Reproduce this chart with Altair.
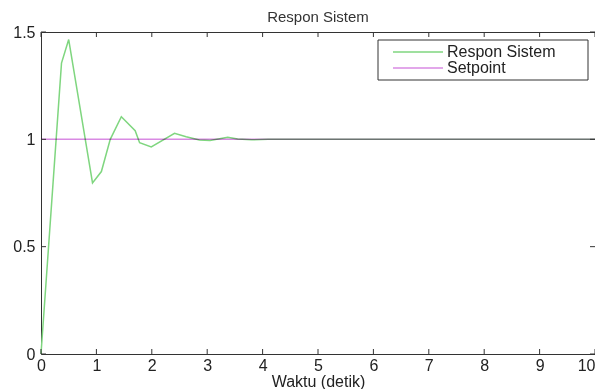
import altair as alt
import pandas as pd

# Response of the system
t_resp = [0, 0.37, 0.5, 0.93, 1.09, 1.25, 1.45, 1.7, 1.78, 1.99, 2.41, 2.62, 2.86,
          3.05, 3.37, 3.55, 3.8, 4.1, 10]
y_resp = [0, 1.355, 1.465, 0.797, 0.85, 1.0, 1.105, 1.04, 0.984, 0.965, 1.028, 1.012,
          0.997, 0.995, 1.01, 1.002, 0.998, 1.0, 1.0]
# Setpoint
t_set = [0, 10]
y_set = [1, 1]

x_ticks = list(range(11))
y_ticks = [0, 0.5, 1, 1.5]
series_names = ["Respon Sistem", "Setpoint"]
series_colors = ["#7fd67f", "#d98ae3"]

FONT = "Liberation Sans"
W, H = 554, 322

resp = pd.DataFrame({"t": t_resp, "y": y_resp, "s": series_names[0]})
setp = pd.DataFrame({"t": t_set, "y": y_set, "s": series_names[1]})

xs = alt.Scale(domain=[0, 10], nice=False)
ys = alt.Scale(domain=[0, 1.5], nice=False)

color = alt.Color(
    "s:N",
    scale=alt.Scale(domain=series_names, range=series_colors),
    legend=alt.Legend(
        title=None, orient="none", legendX=337, legendY=8,
        symbolType="M-1,0H9", symbolSize=100, symbolStrokeWidth=1.5,
        labelFontSize=16, labelFont=FONT, labelColor="#222",
        padding=4, symbolOffset=8, labelOffset=41, rowPadding=0,
    ),
)

x_axis = alt.Axis(values=x_ticks, ticks=False, domain=False, grid=False,
                  labelFontSize=16, labelFont=FONT, labelColor="#222", labelPadding=3,
                  labelAlign={"condition": {"test": "datum.value >= 10", "value": "right"},
                              "value": "center"},
                  title="Waktu (detik)", titleFontSize=16, titleFont=FONT,
                  titleFontWeight="normal", titleColor="#222", titlePadding=0)
y_axis = alt.Axis(values=y_ticks, ticks=False, domain=False, grid=False, format=".1~f",
                  labelFontSize=16, labelFont=FONT, labelColor="#222", labelPadding=6,
                  title=None)

line_resp = alt.Chart(resp).mark_line(strokeWidth=1.5).encode(
    x=alt.X("t:Q", scale=xs, axis=x_axis),
    y=alt.Y("y:Q", scale=ys, axis=y_axis),
    color=color,
)
line_set = alt.Chart(setp).mark_line(strokeWidth=1.5, blend="multiply").encode(
    x=alt.X("t:Q", scale=xs),
    y=alt.Y("y:Q", scale=ys),
    color=color,
)

xt = pd.DataFrame({"t": x_ticks})
yt = pd.DataFrame({"y": y_ticks})
tick_b = alt.Chart(xt).mark_rule(color="#333").encode(
    x=alt.X("t:Q", scale=xs), y=alt.value(H), y2=alt.value(H - 5))
tick_t = alt.Chart(xt).mark_rule(color="#333").encode(
    x=alt.X("t:Q", scale=xs), y=alt.value(0), y2=alt.value(5))
tick_l = alt.Chart(yt).mark_rule(color="#333").encode(
    y=alt.Y("y:Q", scale=ys), x=alt.value(0), x2=alt.value(5))
tick_r = alt.Chart(yt).mark_rule(color="#333").encode(
    y=alt.Y("y:Q", scale=ys), x=alt.value(W), x2=alt.value(W - 5))

box = alt.Chart(pd.DataFrame({"a": [0]})).mark_rect(
    fill="white", stroke="#333", strokeWidth=1).encode(
    x=alt.value(337), x2=alt.value(547), y=alt.value(8), y2=alt.value(48))

chart = alt.layer(line_resp, line_set, tick_b, tick_t, tick_l, tick_r, box).properties(
    width=W, height=H,
    title=alt.TitleParams("Respon Sistem", fontSize=15, fontWeight="normal", font=FONT,
                          color="#333", anchor="middle", offset=-1),
    autosize=alt.AutoSizeParams(type="none"),
    padding={"left": 33, "top": 24, "right": 0, "bottom": 40},
    background="white",
).configure_view(stroke="#333", strokeWidth=1)

chart.save("out.html", embed_options={"renderer": "svg", "actions": False})
